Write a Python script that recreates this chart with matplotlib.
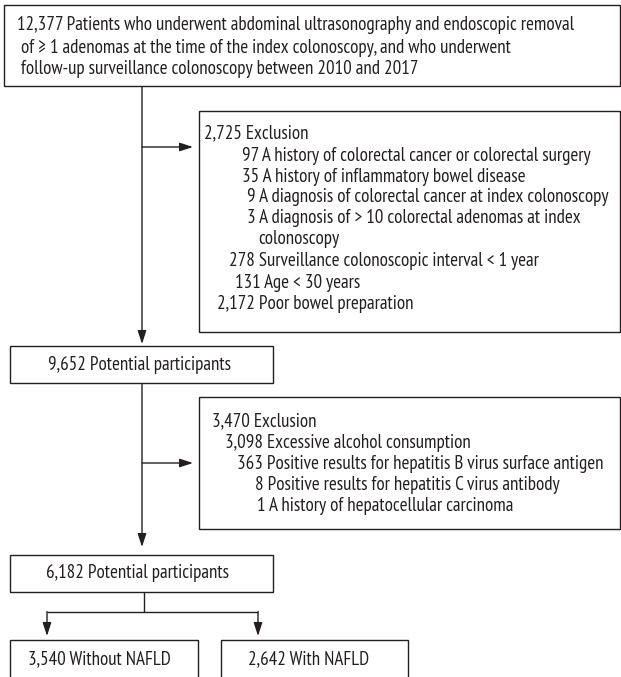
import matplotlib
matplotlib.use("Agg")
import matplotlib.pyplot as plt
from matplotlib.patches import Rectangle
from matplotlib import font_manager as fm

# ---------------- data ----------------
top_lines = [
    "12,377 Patients who underwent abdominal ultrasonography and endoscopic removal",
    " of \u2265 1 adenomas at the time of the index colonoscopy, and who underwent",
    " follow-up surveillance colonoscopy between 2010 and 2017",
]
excl1_total = "2,725"
excl1_counts = ["97", "35", "9", "3", "", "278", "131", "2,172"]
excl1_labels = [
    "A history of colorectal cancer or colorectal surgery",
    "A history of inflammatory bowel disease",
    "A diagnosis of colorectal cancer at index colonoscopy",
    "A diagnosis of > 10 colorectal adenomas at index",
    "colonoscopy",
    "Surveillance colonoscopic interval < 1 year",
    "Age < 30 years",
    "Poor bowel preparation",
]
step2_n = "9,652"
excl2_total = "3,470"
excl2_counts = ["3,098", "363", "8", "1"]
excl2_labels = [
    "Excessive alcohol consumption",
    "Positive results for hepatitis B virus surface antigen",
    "Positive results for hepatitis C virus antibody",
    "A history of hepatocellular carcinoma",
]
step3_n = "6,182"
group_n = ["3,540", "2,642"]
group_labels = ["Without NAFLD", "With NAFLD"]

# ---------------- style ----------------
LC = "#231f20"
TC = "#231f20"
LW = 1.0

def pick_font():
    for name in ["PT Sans Narrow", "Fira Sans Condensed", "Open Sans Condensed",
                 "Roboto Condensed", "Liberation Sans Narrow"]:
        try:
            fm.findfont(fm.FontProperties(family=name), fallback_to_default=False)
            return name
        except Exception:
            pass
    return "DejaVu Sans"

FONT = pick_font()
plt.rcParams["font.family"] = [FONT, "DejaVu Sans"]

W, H = 621, 677
fig = plt.figure(figsize=(W / 100, H / 100), dpi=100)
ax = fig.add_axes([0, 0, 1, 1])
ax.set_xlim(0, W)
ax.set_ylim(H, 0)
ax.axis("off")

# fit the font size so the first header line spans the measured width
renderer = fig.canvas.get_renderer()
probe = ax.text(0, 0, top_lines[0], fontsize=10)
w = probe.get_window_extent(renderer).width
probe.remove()
FS = 10 * 559.0 / w


def box(x0, y0, x1, y1):
    ax.add_patch(Rectangle((x0, y0), x1 - x0, y1 - y0, facecolor="white",
                           edgecolor=LC, lw=LW, clip_on=True, zorder=2))


def line(xs, ys):
    ax.plot(xs, ys, color=LC, lw=LW, solid_capstyle="butt", zorder=1)


def arrow(x0, y0, x1, y1):
    ax.annotate("", xy=(x1, y1), xytext=(x0, y0),
                arrowprops=dict(arrowstyle="-|>,head_length=0.8,head_width=0.26",
                                color=LC, lw=LW, shrinkA=0, shrinkB=0,
                                mutation_scale=10), zorder=1)


def txt(x, y, s, ha="left"):
    ax.text(x, y, s, fontsize=FS, color=TC, ha=ha, va="baseline", zorder=3)


# top box
box(4, 5, 620, 86)
for s, x, y in zip(top_lines, [17, 17, 17], [29.5, 53, 74.5]):
    txt(x, y, s)

# main trunk 1
arrow(142, 86, 142, 344)
arrow(142, 147, 193, 147)

# exclusion box 1
box(199, 111, 620, 332)
txt(204, 138.5, excl1_total + " Exclusion")
ex1_x = [242, 242, 247, 247, 258, 229, 235, 217]
ex1_y = [161, 181.5, 201.5, 223, 244, 266, 288, 309]
for c, lab, x, y in zip(excl1_counts, excl1_labels, ex1_x, ex1_y):
    txt(x, y, (c + " " + lab) if c else lab)

# 9,652 box
box(10, 346, 273, 383)
txt(139, 370, step2_n + " Potential participants", ha="center")

# trunk 2
arrow(142, 383, 142, 547)
arrow(142, 463, 193, 463)

# exclusion box 2
box(199, 397, 620, 529)
txt(212, 426, excl2_total + " Exclusion")
ex2_x = [225, 237, 255, 257]
ex2_y = [447.5, 469, 490, 511]
for c, lab, x, y in zip(excl2_counts, excl2_labels, ex2_x, ex2_y):
    txt(x, y, c + " " + lab)

# 6,182 box
box(10, 555, 273, 592)
txt(137, 578, step3_n + " Potential participants", ha="center")

# split
line([144, 144], [592, 612])
line([47, 258], [612, 612])
arrow(47, 611.5, 47, 636)
arrow(258, 611.5, 258, 636)

# group boxes (cut by the lower edge)
box(10, 640, 198, 720)
box(221, 640, 408, 720)
for c, lab, x in zip(group_n, group_labels, [99, 309]):
    txt(x, 664, c + " " + lab, ha="center")

fig.savefig("out.png", dpi=100)
